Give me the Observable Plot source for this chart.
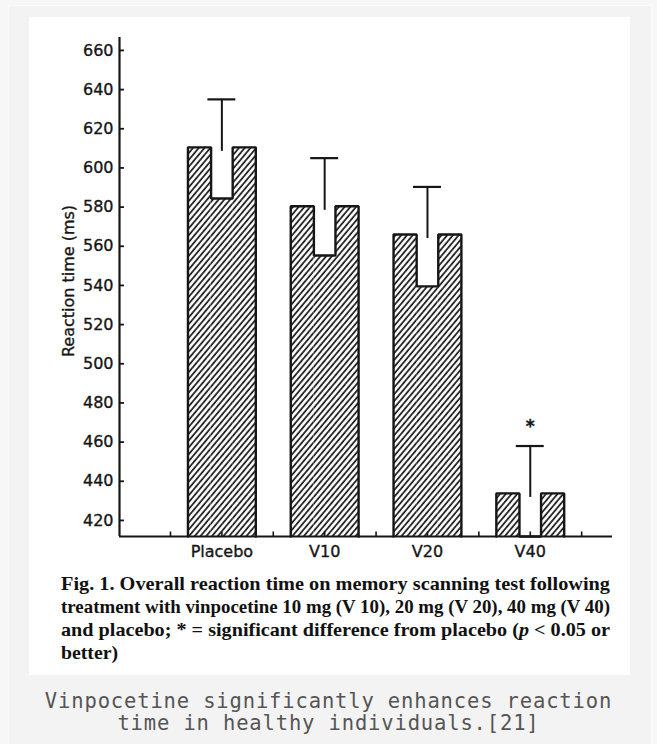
<!DOCTYPE html>
<html>
<head>
<meta charset="utf-8">
<script src="https://cdn.jsdelivr.net/npm/d3@7"></script>
<script src="https://cdn.jsdelivr.net/npm/@observablehq/plot@0.6"></script>
<style>
  html, body { margin: 0; padding: 0; }
  body { width: 657px; height: 744px; overflow: hidden; position: relative; background: #f7f7f7; }
  #box { position: absolute; left: 8px; top: 5px; width: 642px; height: 760px; background: #f3f3f3; border: 1px solid #fbfbfb; }
  #white { position: absolute; left: 29px; top: 17px; width: 601px; height: 658px; background: #ffffff; }
  #chart { position: absolute; left: 0; top: 0; }
  #chart svg text { stroke: #161616; stroke-width: 0.35px; }
  #fig { position: absolute; left: 61px; top: 572px; width: 549px; font-family: "Liberation Serif", "Times New Roman", serif; font-weight: bold; font-size: 19px; line-height: 23px; color: #111; }
  #fig .ln { white-space: nowrap; height: 23px; }
  #fig .ln span { display: inline-block; transform-origin: 0 0; }
  #cap { position: absolute; left: 0; top: 690px; width: 657px; text-align: center; font-family: "DejaVu Sans Mono", monospace; font-size: 20.5px; line-height: 22px; letter-spacing: 0.85px; color: #555; }
</style>
</head>
<body>
<div id="box"></div>
<div id="white"></div>
<div id="chart"></div>
<div id="fig">
  <div class="ln"><span>Fig. 1. Overall reaction time on memory scanning test following</span></div>
  <div class="ln"><span>treatment with vinpocetine 10 mg (V 10), 20 mg (V 20), 40 mg (V 40)</span></div>
  <div class="ln"><span>and placebo; * = significant difference from placebo (<i>p</i> &lt; 0.05 or</span></div>
  <div class="ln"><span>better)</span></div>
</div>
<div id="cap">Vinpocetine significantly enhances reaction<br>time in healthy individuals.[21]</div>
<script>
// ---- data ----
const categories = ["Placebo", "V10", "V20", "V40"];
const means = [610.5, 580.4, 566.0, 433.8];
const upper = [635.0, 605.0, 590.3, 458.0];
const lower = [584.4, 555.3, 539.5, 409.6];
const significant = [false, false, false, true];
const yTicks = [420, 440, 460, 480, 500, 520, 540, 560, 580, 600, 620, 640, 660];
const yLabel = "Reaction time (ms)";

// ---- scale configuration ----
const yDomain = [411.8, 666.6];
const xDomain = [-0.996, 3.8];
const BAR = 0.33, NOTCH = 0.105, CAP = 0.136;
const yMin = yDomain[0];

const rows = categories.map((c, i) => ({
  i, category: c, mean: means[i], upper: upper[i],
  lower: Math.max(lower[i], yMin), sig: significant[i]
}));

const outline = rows.flatMap(d => [
  {category: d.category, x: d.i - BAR, y: yMin},
  {category: d.category, x: d.i - BAR, y: d.mean},
  {category: d.category, x: d.i - NOTCH, y: d.mean},
  {category: d.category, x: d.i - NOTCH, y: d.lower},
  {category: d.category, x: d.i + NOTCH, y: d.lower},
  {category: d.category, x: d.i + NOTCH, y: d.mean},
  {category: d.category, x: d.i + BAR, y: d.mean},
  {category: d.category, x: d.i + BAR, y: yMin}
]);

const boundaryTicks = d3.range(-0.5, categories.length, 0.5);

const ink = "#161616";
const plot = Plot.plot({
  width: 657,
  height: 570,
  marginLeft: 119,
  marginRight: 45,
  marginTop: 37,
  marginBottom: 34,
  style: {fontFamily: "DejaVu Sans", fontSize: "16px", color: ink, background: "transparent", overflow: "visible"},
  x: {type: "linear", domain: xDomain, axis: null},
  y: {domain: yDomain, axis: null},
  marks: [
    // hatched bar pieces
    Plot.rect(rows, {x1: d => d.i - BAR, x2: d => d.i - NOTCH, y1: yMin, y2: "mean", fill: "url(#hatch)"}),
    Plot.rect(rows, {x1: d => d.i + NOTCH, x2: d => d.i + BAR, y1: yMin, y2: "mean", fill: "url(#hatch)"}),
    Plot.rect(rows, {x1: d => d.i - NOTCH, x2: d => d.i + NOTCH, y1: yMin, y2: "lower", fill: "url(#hatch)"}),
    // bar outlines
    Plot.line(outline, {x: "x", y: "y", z: "category", stroke: ink, strokeWidth: 2.4, strokeLinejoin: "miter", curve: "linear"}),
    // error bars
    Plot.ruleX(rows, {x: "i", y1: "upper", y2: "mean", stroke: ink, strokeWidth: 2, insetBottom: -4}),
    Plot.ruleY(rows, {y: "upper", x1: d => d.i - CAP, x2: d => d.i + CAP, stroke: ink, strokeWidth: 2.2}),
    // significance marker
    Plot.text(rows.filter(d => d.sig), {x: "i", y: "upper", text: () => "*", dy: -19, fontSize: 17, fontWeight: "bold", fill: ink}),
    // axes
    Plot.ruleX([xDomain[0]], {stroke: ink, strokeWidth: 2.2}),
    Plot.ruleY([yMin], {stroke: ink, strokeWidth: 2.2}),
    Plot.axisY(yTicks, {anchor: "left", tickSize: -5, tickPadding: 11, strokeWidth: 1.8, label: null, fontSize: 16}),
    Plot.axisX(boundaryTicks, {anchor: "bottom", tickSize: -4.5, tickFormat: () => "", strokeWidth: 1.6, label: null}),
    Plot.axisX(d3.range(categories.length), {anchor: "bottom", tickSize: 0, tickPadding: 9, tickFormat: i => categories[i], label: null, fontSize: 16, style: {letterSpacing: "1px"}}),
    Plot.text([yLabel], {frameAnchor: "left", dx: -51, dy: -6, rotate: -90, textAnchor: "middle", fontSize: 16, fill: ink, style: {letterSpacing: "1.2px"}})
  ]
});

// hatch pattern definition
const svg = d3.select(plot);
const defs = svg.insert("defs", ":first-child");
const pat = defs.append("pattern")
  .attr("id", "hatch")
  .attr("patternUnits", "userSpaceOnUse")
  .attr("width", 4.4).attr("height", 8)
  .attr("patternTransform", "rotate(40)");
pat.append("rect").attr("width", 4.4).attr("height", 8).attr("fill", "white");
pat.append("line").attr("x1", 1).attr("y1", 0).attr("x2", 1).attr("y2", 8)
  .attr("stroke", ink).attr("stroke-width", 1.7);

document.getElementById("chart").appendChild(plot);

// fit the figure-caption lines to the column width
const target = 549;
const spans = Array.from(document.querySelectorAll("#fig .ln span"));
const scales = spans.slice(0, 3).map(s => target / s.getBoundingClientRect().width);
spans.slice(0, 3).forEach((s, k) => s.style.transform = `scaleX(${scales[k]})`);
const avg = d3.mean(scales);
spans[3].style.transform = `scaleX(${avg})`;
</script>
</body>
</html>
